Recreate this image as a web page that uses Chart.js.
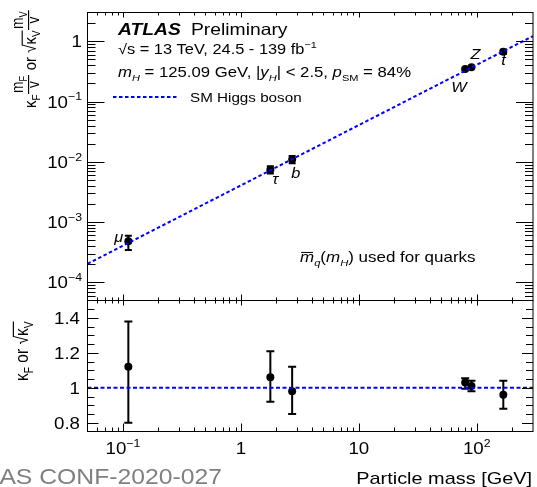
<!DOCTYPE html>
<html><head><meta charset="utf-8">
<script src="https://cdn.jsdelivr.net/npm/chart.js@4.4.1/dist/chart.umd.min.js"></script>
<style>
html,body{margin:0;padding:0;background:#fff;overflow:hidden}
#wrap{position:relative;width:537px;height:487px;background:#fff}
canvas{position:absolute;left:0;top:0}
</style>
</head><body>
<div id="wrap"><canvas id="cTop" width="537" height="487"></canvas><canvas id="cBot" width="537" height="487"></canvas></div>
<script>
// ---------------- data ----------------
const particles   = ['μ', 'τ', 'b', 'W', 'Z', 't'];
const mass        = [0.111, 1.777, 2.72, 79.8, 90.2, 168];          // GeV
const coupling    = [4.83e-4, 7.4e-3, 0.0109, 0.345, 0.372, 0.669];  // kappa*m/v
const couplingLo  = [3.45e-4, 6.4e-3, 0.00945, 0.336, 0.362, 0.613];
const couplingHi  = [5.95e-4, 8.45e-3, 0.0125, 0.354, 0.382, 0.725];
const kappa       = [1.12, 1.06, 0.98, 1.03, 1.01, 0.96];
const kappaLo     = [0.80, 0.92, 0.85, 0.995, 0.98, 0.88];
const kappaHi     = [1.38, 1.21, 1.12, 1.055, 1.04, 1.04];
const smMass      = [0.05, 300];
const smCoupling  = [2.03e-4, 1.22];
const smRatio     = [1, 1];
const xTickValues = [0.1, 1, 10, 100];
const xTickLabels = [['10', '−1'], ['1', ''], ['10', ''], ['10', '2']];
const yTopTickValues = [1e-4, 1e-3, 1e-2, 1e-1, 1];
const yTopTickLabels = [['10', '−4'], ['10', '−3'], ['10', '−2'], ['10', '−1'], ['1', '']];
const yBotTickValues = [0.8, 1.0, 1.2, 1.4];
const yBotTickLabels = ['0.8', '1', '1.2', '1.4'];

// ---------------- styling helpers ----------------
const FONT = '"Liberation Sans", Arial, Helvetica, sans-serif';
const SX = 1.17;  // horizontal stretch of text in the reference
const labelOffsets = [[-14, 0.5], [2, 14], [-1, 18], [-14, 23], [-1, -8], [-2, 13]];

function segFont(s, size) {
  const fs = (s.sub || s.sup) ? size * 0.66 : size;
  return (s.i ? 'italic ' : '') + (s.b ? 'bold ' : '') + fs.toFixed(2) + 'px ' + FONT;
}
function measureSegs(ctx, segs, size) {
  let w = 0;
  for (const s of segs) {
    if (s.frac) {
      const fs = size * 0.92;
      const wn = measureSegs(ctx, s.frac.num, fs), wd = measureSegs(ctx, s.frac.den, fs);
      s._w = Math.max(wn, wd) + 3; s._wn = wn; s._wd = wd;
    } else {
      ctx.font = segFont(s, size);
      s._w = ctx.measureText(s.t).width + (s.pad || 0);
    }
    w += s._w;
  }
  return w;
}
function drawSegs(ctx, segs, size, x0, baseY) {
  let x = x0;
  baseY = baseY || 0;
  for (let k = 0; k < segs.length; k++) {
    const s = segs[k];
    if (s.frac) {
      const fs = size * 0.92;
      drawSegs(ctx, s.frac.num, fs, x + (s._w - s._wn) / 2, baseY - size * 0.74);
      drawSegs(ctx, s.frac.den, fs, x + (s._w - s._wd) / 2, baseY + size * 0.17);
      ctx.save(); ctx.lineWidth = 1; ctx.strokeStyle = ctx.fillStyle;
      ctx.beginPath(); ctx.moveTo(x + 0.5, baseY - size * 0.43); ctx.lineTo(x + s._w - 0.5, baseY - size * 0.43); ctx.stroke(); ctx.restore();
    } else {
      ctx.font = segFont(s, size);
      const dy = s.sub ? size * 0.25 : s.sup ? -size * 0.42 : 0;
      ctx.fillText(s.t, x, baseY + dy);
      if (s.over) {
        ctx.save(); ctx.lineWidth = 1; ctx.strokeStyle = ctx.fillStyle;
        ctx.beginPath(); ctx.moveTo(x + 1, baseY - size * 0.66); ctx.lineTo(x + s._w - 1, baseY - size * 0.66); ctx.stroke(); ctx.restore();
      }
      if (s.root) {
        let span = 0; for (let j = 1; j <= s.root; j++) span += segs[k + j]._w;
        ctx.save(); ctx.lineWidth = 1; ctx.strokeStyle = ctx.fillStyle;
        ctx.beginPath(); ctx.moveTo(x + s._w - 1, baseY - size * 0.8); ctx.lineTo(x + s._w + span, baseY - size * 0.8); ctx.stroke(); ctx.restore();
      }
    }
    x += s._w;
  }
  return x;
}
function rich(ctx, x, y, segs, size, align, sx, color) {
  ctx.save();
  ctx.translate(x, y); ctx.scale(sx, 1);
  ctx.fillStyle = color || '#000'; ctx.textBaseline = 'alphabetic'; ctx.textAlign = 'left';
  const w = measureSegs(ctx, segs, size);
  const x0 = align === 'right' ? -w : align === 'center' ? -w / 2 : 0;
  drawSegs(ctx, segs, size, x0, 0);
  ctx.restore();
}
function richRot(ctx, x, y, segs, size, sy) {
  ctx.save();
  ctx.translate(x, y); ctx.rotate(-Math.PI / 2); ctx.scale(1, sy);
  ctx.fillStyle = '#000'; ctx.textBaseline = 'alphabetic'; ctx.textAlign = 'left';
  measureSegs(ctx, segs, size);
  drawSegs(ctx, segs, size, 0, 0);
  ctx.restore();
}

function drawTicks(chart, cfg) {
  const ctx = chart.ctx, a = chart.chartArea, xs = chart.scales.x, ys = chart.scales.y;
  ctx.save();
  ctx.strokeStyle = '#000'; ctx.lineWidth = 1;
  ctx.strokeRect(a.left, a.top, a.right - a.left, a.bottom - a.top);
  ctx.beginPath();
  for (let d = -2; d <= 2; d++) for (let k = 1; k <= 9; k++) {
    const v = k * Math.pow(10, d);
    if (v <= xs.min || v >= xs.max) continue;
    const px = Math.round(xs.getPixelForValue(v)) + 0.5;
    const maj = k === 1;
    const Lt = maj ? cfg.xTop[0] : cfg.xTop[1];
    const Lb = maj ? cfg.xBot[0] : cfg.xBot[1];
    ctx.moveTo(px, a.top); ctx.lineTo(px, a.top + Lt);
    ctx.moveTo(px, a.bottom); ctx.lineTo(px, a.bottom - Lb);
  }
  const yTicks = [];
  if (cfg.yLog) {
    for (let d = -5; d <= 1; d++) for (let k = 1; k <= 9; k++) {
      const v = k * Math.pow(10, d);
      if (v <= ys.min || v >= ys.max) continue;
      yTicks.push([v, k === 1]);
    }
  } else {
    for (let i = 15; i <= 30; i++) {
      const v = i * 0.05;
      if (v <= ys.min + 1e-9 || v >= ys.max - 1e-9) continue;
      yTicks.push([v, i % 4 === 0]);
    }
  }
  for (const [v, maj] of yTicks) {
    const py = Math.round(ys.getPixelForValue(v)) + 0.5;
    const L = maj ? cfg.y[0] : cfg.y[1];
    ctx.moveTo(a.left, py); ctx.lineTo(a.left + L, py);
    ctx.moveTo(a.right, py); ctx.lineTo(a.right - L, py);
  }
  ctx.stroke();
  ctx.restore();
}

function drawErrors(chart, lo, hi, capHalf) {
  const ctx = chart.ctx, xs = chart.scales.x, ys = chart.scales.y;
  ctx.save(); ctx.strokeStyle = '#000'; ctx.lineWidth = 2;
  ctx.beginPath();
  for (let i = 0; i < mass.length; i++) {
    const px = xs.getPixelForValue(mass[i]);
    const p1 = ys.getPixelForValue(lo[i]), p2 = ys.getPixelForValue(hi[i]);
    ctx.moveTo(px, p1); ctx.lineTo(px, p2);
    ctx.moveTo(px - capHalf, p1); ctx.lineTo(px + capHalf, p1);
    ctx.moveTo(px - capHalf, p2); ctx.lineTo(px + capHalf, p2);
  }
  ctx.stroke(); ctx.restore();
}

// ---------------- upper panel ----------------
const topPlugin = {
  id: 'topDecor',
  beforeDatasetsDraw(chart) { drawErrors(chart, couplingLo, couplingHi, 3.5); },
  afterDraw(chart) {
    const ctx = chart.ctx, xs = chart.scales.x, ys = chart.scales.y;
    drawTicks(chart, { xTop: [5, 3], xBot: [6, 3], y: [17, 8], yLog: true });
    yTopTickValues.forEach((v, i) => {
      const py = ys.getPixelForValue(v);
      const lab = yTopTickLabels[i];
      const segs = [{ t: lab[0] }];
      if (lab[1]) segs.push({ t: lab[1], sup: true });
      rich(ctx, 82, py + 6, segs, 17, 'right', 1.1);
    });
    particles.forEach((p, i) => {
      const px = xs.getPixelForValue(mass[i]), py = ys.getPixelForValue(coupling[i]);
      rich(ctx, px + labelOffsets[i][0], py + labelOffsets[i][1], [{ t: p, i: true }], 14, 'left', SX);
    });
    rich(ctx, 118, 35, [{ t: 'ATLAS', b: true, i: true, pad: 4 }, { t: ' Preliminary' }], 16.5, 'left', SX);
    rich(ctx, 118, 54, [{ t: '√s = 13 TeV, 24.5 - 139 fb' }, { t: '−1', sup: true }], 14, 'left', SX);
    rich(ctx, 118, 77, [{ t: 'm', i: true }, { t: 'H', i: true, sub: true }, { t: ' = 125.09 GeV, |' },
      { t: 'y', i: true }, { t: 'H', i: true, sub: true }, { t: '| < 2.5, ' }, { t: 'p', i: true },
      { t: 'SM', sub: true }, { t: ' = 84%' }], 14.3, 'left', SX);
    ctx.save(); ctx.strokeStyle = '#0000ff'; ctx.lineWidth = 2; ctx.setLineDash([3.5, 2.5]);
    ctx.beginPath(); ctx.moveTo(113, 97); ctx.lineTo(178, 97); ctx.stroke(); ctx.restore();
    rich(ctx, 190, 101.5, [{ t: 'SM Higgs boson' }], 13, 'left', SX);
    rich(ctx, 300, 262, [{ t: 'm', i: true, over: true }, { t: 'q', i: true, sub: true }, { t: '(' }, { t: 'm', i: true },
      { t: 'H', i: true, sub: true }, { t: ') used for quarks' }], 14.5, 'left', SX);
    richRot(ctx, 36, 108, [
      { t: 'κ' }, { t: 'F', sub: true },
      { frac: { num: [{ t: 'm' }, { t: 'F', sub: true }], den: [{ t: 'v' }] } },
      { t: ' or ' },
      { t: '√', root: 2 }, { t: 'κ' }, { t: 'V', sub: true },
      { frac: { num: [{ t: 'm' }, { t: 'V', sub: true }], den: [{ t: 'v' }] } }
    ], 15, 1.15);
  }
};

new Chart(document.getElementById('cTop'), {
  type: 'scatter',
  data: {
    datasets: [
      { type: 'line', data: smMass.map((x, i) => ({ x, y: smCoupling[i] })), borderColor: '#0000ff', borderWidth: 2,
        borderDash: [3.5, 2.5], pointRadius: 0, fill: false, tension: 0 },
      { data: mass.map((x, i) => ({ x, y: coupling[i] })), pointRadius: 4, pointBackgroundColor: '#000',
        pointBorderColor: '#000', pointBorderWidth: 0 }
    ]
  },
  options: {
    responsive: false, animation: false, devicePixelRatio: 1, events: [],
    layout: { padding: { left: 87.5, right: 3.5, top: 12.5, bottom: 186.5 } },
    plugins: { legend: { display: false }, tooltip: { enabled: false } },
    scales: {
      x: { type: 'logarithmic', min: 0.05, max: 300, display: false },
      y: { type: 'logarithmic', min: 5e-5, max: 3, display: false }
    }
  },
  plugins: [topPlugin]
});

// ---------------- lower panel ----------------
const botPlugin = {
  id: 'botDecor',
  beforeDatasetsDraw(chart) { drawErrors(chart, kappaLo, kappaHi, 4); },
  afterDraw(chart) {
    const ctx = chart.ctx, xs = chart.scales.x, ys = chart.scales.y;
    drawTicks(chart, { xTop: [5, 3], xBot: [8, 4], y: [11, 7], yLog: false });
    yBotTickValues.forEach((v, i) => {
      rich(ctx, 80, ys.getPixelForValue(v) + 6, [{ t: yBotTickLabels[i] }], 17, 'right', 1.1);
    });
    xTickValues.forEach((v, i) => {
      const lab = xTickLabels[i];
      const segs = [{ t: lab[0] }];
      if (lab[1]) segs.push({ t: lab[1], sup: true });
      rich(ctx, xs.getPixelForValue(v), 454, segs, 17, 'center', 1.1);
    });
    rich(ctx, 532, 484, [{ t: 'Particle mass [GeV]' }], 17, 'right', SX);
    rich(ctx, 222, 484, [{ t: 'ATLAS CONF-2020-027' }], 21.5, 'right', 1.15, '#808080');
    richRot(ctx, 28, 381, [
      { t: 'κ' }, { t: 'F', sub: true }, { t: ' or ' }, { t: '√', root: 2 }, { t: 'κ' }, { t: 'V', sub: true }
    ], 15.5, 1.18);
  }
};

new Chart(document.getElementById('cBot'), {
  type: 'scatter',
  data: {
    datasets: [
      { type: 'line', data: smMass.map((x, i) => ({ x, y: smRatio[i] })), borderColor: '#0000ff', borderWidth: 2,
        borderDash: [4, 2.5], pointRadius: 0, fill: false, tension: 0 },
      { data: mass.map((x, i) => ({ x, y: kappa[i] })), pointRadius: 4, pointBackgroundColor: '#000',
        pointBorderColor: '#000', pointBorderWidth: 0 }
    ]
  },
  options: {
    responsive: false, animation: false, devicePixelRatio: 1, events: [],
    layout: { padding: { left: 87.5, right: 3.5, top: 300.5, bottom: 55.5 } },
    plugins: { legend: { display: false }, tooltip: { enabled: false } },
    scales: {
      x: { type: 'logarithmic', min: 0.05, max: 300, display: false },
      y: { type: 'linear', min: 0.75, max: 1.5, display: false }
    }
  },
  plugins: [botPlugin]
});
</script>
</body></html>
